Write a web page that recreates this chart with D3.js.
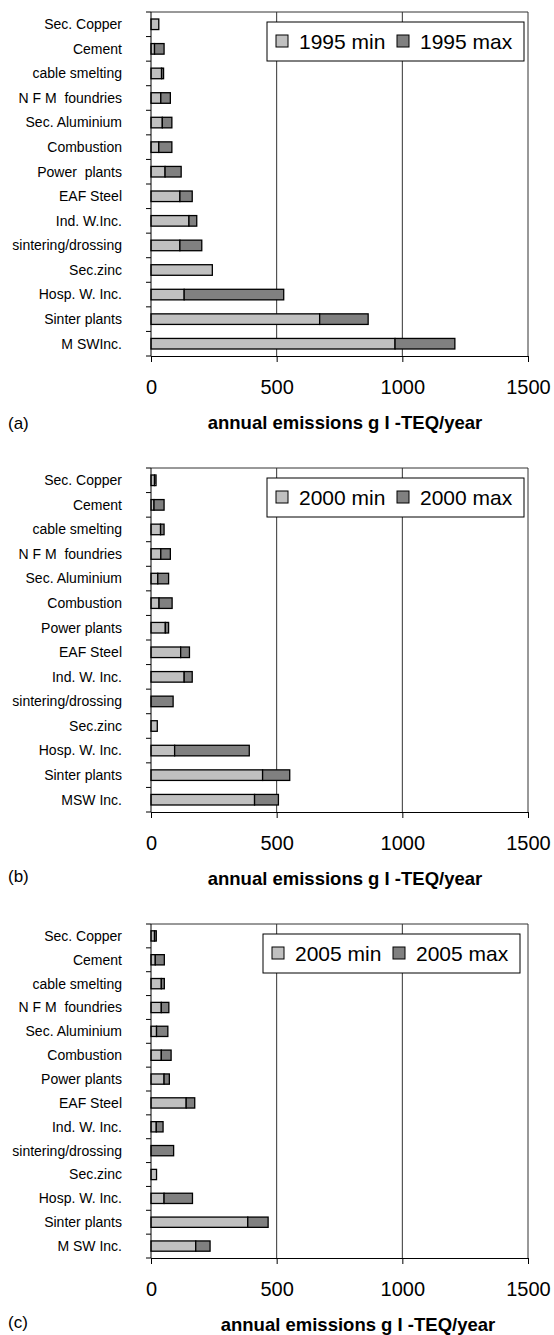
<!DOCTYPE html>
<html>
<head>
<meta charset="utf-8">
<script src="https://cdn.jsdelivr.net/npm/d3@7"></script>
<style>
  body { margin: 0; background: #fff; }
  text { font-family: "Liberation Sans", Arial, sans-serif; white-space: pre; }
</style>
</head>
<body>
<div id="chart"></div>
<script>
// top to bottom, as in the figure
const labelsA = ["Sec. Copper", "Cement", "cable smelting", "N F M  foundries", "Sec. Aluminium", "Combustion", "Power  plants", "EAF Steel", "Ind. W.Inc.", "sintering/drossing", "Sec.zinc", "Hosp. W. Inc.", "Sinter plants", "M SWInc."];
const labelsB = ["Sec. Copper", "Cement", "cable smelting", "N F M  foundries", "Sec. Aluminium", "Combustion", "Power plants", "EAF Steel", "Ind. W. Inc.", "sintering/drossing", "Sec.zinc", "Hosp. W. Inc.", "Sinter plants", "MSW Inc."];
const labelsC = ["Sec. Copper", "Cement", "cable smelting", "N F M  foundries", "Sec. Aluminium", "Combustion", "Power plants", "EAF Steel", "Ind. W. Inc.", "sintering/drossing", "Sec.zinc", "Hosp. W. Inc.", "Sinter plants", "M SW Inc."];

const min1995 = [31, 14, 42, 39, 45, 31, 56, 115, 151, 115, 244, 132, 671, 971];
const max1995 = [31, 52, 50, 77, 83, 83, 120, 164, 182, 202, 244, 528, 864, 1209];
const min2000 = [14, 12, 38, 39, 27, 32, 57, 118, 132, 0, 25, 94, 444, 412];
const max2000 = [20, 52, 52, 77, 70, 84, 70, 153, 164, 88, 25, 391, 552, 507];
const min2005 = [14, 17, 41, 41, 22, 41, 52, 140, 21, 0, 22, 52, 385, 178];
const max2005 = [21, 53, 53, 71, 67, 80, 73, 174, 48, 90, 22, 165, 466, 235];

const xTicks = [0, 500, 1000, 1500];
const xTitle = "annual emissions g I -TEQ/year";

const panels = [
  {tag: "(a)", year: "1995", labels: labelsA, min: min1995, max: max1995, top: 12, bottom: 356, legendX: 267, tagDy: 0, titleX: 345},
  {tag: "(b)", year: "2000", labels: labelsB, min: min2000, max: max2000, top: 468, bottom: 812, legendX: 267, tagDy: -3, titleX: 345},
  {tag: "(c)", year: "2005", labels: labelsC, min: min2005, max: max2005, top: 924, bottom: 1258, legendX: 263, tagDy: -3, titleX: 358}
];

const W = 554, H = 1335;
const lightFill = "#c0c0c0", darkFill = "#808080";

const svg = d3.select("#chart").append("svg")
    .attr("width", W)
    .attr("height", H)
    .attr("viewBox", [0, 0, W, H]);

const x = d3.scaleLinear().domain([0, 1500]).range([151, 528]);

panels.forEach(p => {
  const g = svg.append("g");
  const rows = p.labels.map((name, i) => ({name, min: p.min[i], max: p.max[i]}));

  const y = d3.scaleBand()
      .domain(p.labels)
      .range([p.top, p.bottom])
      .paddingInner(0.57)
      .paddingOuter(0.285);

  const band = (p.bottom - p.top) / p.labels.length;

  // vertical grid lines (the 1500 line is the right frame)
  g.selectAll(".grid")
    .data(xTicks.slice(1))
    .join("line")
      .attr("x1", d => x(d)).attr("x2", d => x(d))
      .attr("y1", p.top).attr("y2", p.bottom)
      .attr("stroke", "#333").attr("stroke-width", 1);

  // top frame
  g.append("line")
      .attr("x1", x(0)).attr("x2", x(1500))
      .attr("y1", p.top).attr("y2", p.top)
      .attr("stroke", "#333");

  // bars: light from 0 to min, dark from min to max
  const bar = g.selectAll(".bar")
    .data(rows)
    .join("g");

  bar.append("rect")
      .attr("x", x(0))
      .attr("y", d => y(d.name))
      .attr("width", d => x(d.min) - x(0))
      .attr("height", y.bandwidth())
      .attr("fill", lightFill)
      .attr("stroke", "#000")
      .attr("stroke-width", 1.3)
      .attr("display", d => d.min > 0 ? null : "none");

  bar.append("rect")
      .attr("x", d => x(d.min))
      .attr("y", d => y(d.name))
      .attr("width", d => x(d.max) - x(d.min))
      .attr("height", y.bandwidth())
      .attr("fill", darkFill)
      .attr("stroke", "#000")
      .attr("stroke-width", 1.3)
      .attr("display", d => d.max > d.min ? null : "none");

  // y axis: line + ticks at category boundaries
  g.append("line")
      .attr("x1", x(0)).attr("x2", x(0))
      .attr("y1", p.top).attr("y2", p.bottom)
      .attr("stroke", "#000");
  g.selectAll(".ytick")
    .data(d3.range(p.labels.length + 1))
    .join("line")
      .attr("x1", x(0) - 5).attr("x2", x(0))
      .attr("y1", i => p.top + i * band).attr("y2", i => p.top + i * band)
      .attr("stroke", "#000");

  g.selectAll(".ylab")
    .data(p.labels)
    .join("text")
      .attr("x", 122)
      .attr("y", d => y(d) + y.bandwidth() / 2)
      .attr("dy", "0.35em")
      .attr("text-anchor", "end")
      .attr("font-size", 14)
      .attr("fill", "#000")
      .text(d => d);

  // x axis
  const xAxis = g.append("g")
      .attr("transform", `translate(0,${p.bottom})`)
      .call(d3.axisBottom(x).tickValues(xTicks).tickFormat(d3.format("d"))
        .tickSize(6).tickPadding(18).tickSizeOuter(0));
  xAxis.select(".domain").attr("stroke", "#000");
  xAxis.selectAll(".tick line").attr("stroke", "#000");
  xAxis.selectAll("text")
      .attr("font-size", 20)
      .attr("font-family", "'Liberation Sans', Arial, sans-serif")
      .attr("fill", "#000");

  g.append("text")
      .attr("x", 8)
      .attr("y", p.bottom + 67 + p.tagDy)
      .attr("dy", "0.35em")
      .attr("font-size", 17)
      .attr("fill", "#000")
      .text(p.tag);

  g.append("text")
      .attr("x", p.titleX)
      .attr("y", p.bottom + 67)
      .attr("dy", "0.35em")
      .attr("text-anchor", "middle")
      .attr("font-size", 18.5)
      .attr("font-weight", "bold")
      .attr("fill", "#000")
      .text(xTitle);

  // legend
  const lg = g.append("g").attr("transform", `translate(${p.legendX},${p.top + 10})`);
  lg.append("rect")
      .attr("width", 257).attr("height", 39)
      .attr("fill", "#fff").attr("stroke", "#000");
  const items = [{name: p.year + " min", fill: lightFill}, {name: p.year + " max", fill: darkFill}];
  const it = lg.selectAll(".item")
    .data(items)
    .join("g")
      .attr("transform", (d, i) => `translate(${9 + i * 121},0)`);
  it.append("rect")
      .attr("y", 13).attr("width", 12).attr("height", 12)
      .attr("fill", d => d.fill).attr("stroke", "#000");
  it.append("text")
      .attr("x", 23).attr("y", 20)
      .attr("dy", "0.35em")
      .attr("font-size", 21)
      .attr("fill", "#000")
      .text(d => d.name);
});
</script>
</body>
</html>
